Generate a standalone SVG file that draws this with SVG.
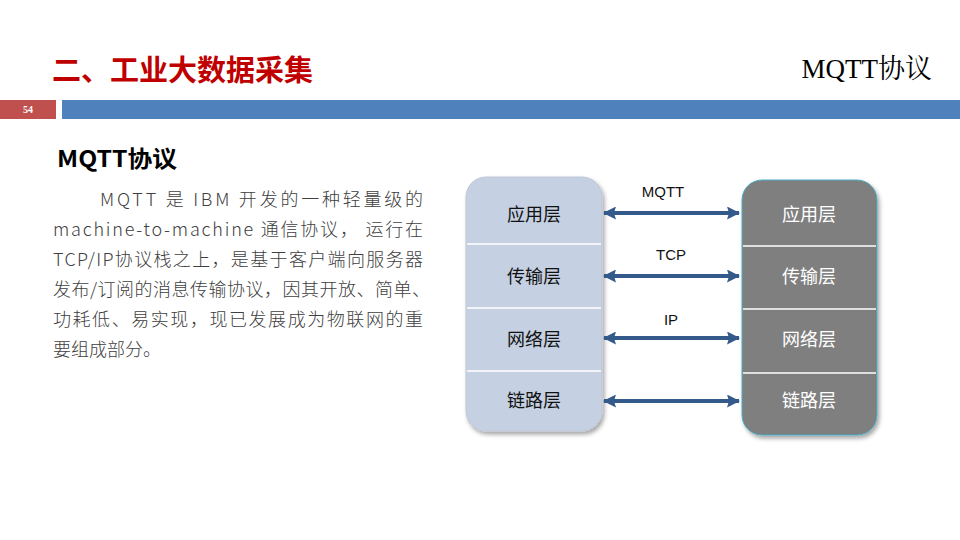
<svg xmlns="http://www.w3.org/2000/svg" width="960" height="540" viewBox="0 0 960 540">
<style>
.cjk{font-family:"Noto Sans CJK SC","Noto Sans",sans-serif}
.body{font-family:"Noto Sans CJK SC",sans-serif;font-size:18px;fill:#404040;font-weight:300}
.lbl{font-family:"Noto Sans CJK SC",sans-serif;font-size:18px;text-anchor:middle}
.alb{font-family:"Liberation Sans",Arial,sans-serif;font-size:15px;fill:#111;text-anchor:middle}
.arr{stroke:#335A8A;stroke-width:4;fill:none}
.div{stroke:#FFFFFF;stroke-width:1.5}
</style>
<defs>
<marker id="ah" viewBox="0 0 13 13" markerWidth="13" markerHeight="13" refX="12" refY="6.5" orient="auto-start-reverse" markerUnits="userSpaceOnUse">
<path d="M0,0 L13,6.5 L0,13 L2,6.5 z" fill="#335A8A"/>
</marker>
<filter id="sh" x="-10%" y="-10%" width="130%" height="130%">
<feDropShadow dx="2" dy="3" stdDeviation="2" flood-color="#000" flood-opacity="0.35"/>
</filter>
</defs>
<rect width="960" height="540" fill="#FFFFFF"/>
<g id="header">
<text x="52" y="81" class="cjk" font-size="29" font-weight="bold" fill="#C00000">二、工业大数据采集</text>
<text x="932" y="78" font-family="'Liberation Serif','Noto Serif CJK SC','Noto Sans CJK SC',serif" font-size="27" fill="#000" text-anchor="end">MQTT协议</text>
<rect x="0" y="100" width="56" height="19" fill="#C0504D"/>
<rect x="62" y="100" width="898" height="19" fill="#4F81BD"/>
<text x="28" y="113" font-family="'Liberation Serif',serif" font-size="10" font-weight="bold" fill="#FFFFFF" text-anchor="middle">54</text>
</g>
<g id="intro">
<text x="57" y="167" class="cjk" font-size="23" font-weight="bold" fill="#000" textLength="120" lengthAdjust="spacingAndGlyphs">MQTT协议</text>
<text class="body" x="100" y="206" textLength="323" lengthAdjust="spacing">MQTT 是 IBM 开发的一种轻量级的</text>
<text class="body" x="53" y="236" textLength="370" lengthAdjust="spacing">machine-to-machine 通信协议， 运行在</text>
<text class="body" x="53" y="266" textLength="370" lengthAdjust="spacing">TCP/IP协议栈之上，是基于客户端向服务器</text>
<text class="body" x="53" y="296" textLength="377" lengthAdjust="spacing">发布/订阅的消息传输协议，因其开放、简单、</text>
<text class="body" x="53" y="326" textLength="370" lengthAdjust="spacing">功耗低、易实现，现已发展成为物联网的重</text>
<text class="body" x="53" y="356">要组成部分。</text>
</g>
<g id="left-stack">
<rect x="466" y="177" width="136" height="254" rx="20" fill="#C5D0E2" stroke="#BFC8D8" stroke-width="1" filter="url(#sh)"/>
<line class="div" x1="467" y1="244" x2="601" y2="244"/>
<line class="div" x1="467" y1="308" x2="601" y2="308"/>
<line class="div" x1="467" y1="371" x2="601" y2="371"/>
<text class="lbl" x="534" y="221" fill="#111">应用层</text>
<text class="lbl" x="534" y="283" fill="#111">传输层</text>
<text class="lbl" x="534" y="346" fill="#111">网络层</text>
<text class="lbl" x="534" y="407" fill="#111">链路层</text>
</g>
<g id="right-stack">
<rect x="742" y="180" width="135" height="255" rx="20" fill="#7F7F7F" stroke="#4BACC6" stroke-width="1" filter="url(#sh)"/>
<line class="div" x1="743" y1="246" x2="876" y2="246"/>
<line class="div" x1="743" y1="309" x2="876" y2="309"/>
<line class="div" x1="743" y1="373" x2="876" y2="373"/>
<text class="lbl" x="809" y="221" fill="#FFFFFF">应用层</text>
<text class="lbl" x="809" y="283" fill="#FFFFFF">传输层</text>
<text class="lbl" x="809" y="346" fill="#FFFFFF">网络层</text>
<text class="lbl" x="809" y="407" fill="#FFFFFF">链路层</text>
</g>
<g id="connectors">
<line class="arr" x1="604" y1="213" x2="739" y2="213" marker-start="url(#ah)" marker-end="url(#ah)"/>
<line class="arr" x1="604" y1="276" x2="739" y2="276" marker-start="url(#ah)" marker-end="url(#ah)"/>
<line class="arr" x1="604" y1="338" x2="739" y2="338" marker-start="url(#ah)" marker-end="url(#ah)"/>
<line class="arr" x1="604" y1="401" x2="739" y2="401" marker-start="url(#ah)" marker-end="url(#ah)"/>
<text class="alb" x="663" y="197">MQTT</text>
<text class="alb" x="671" y="260">TCP</text>
<text class="alb" x="671" y="325">IP</text>
</g>
</svg>
